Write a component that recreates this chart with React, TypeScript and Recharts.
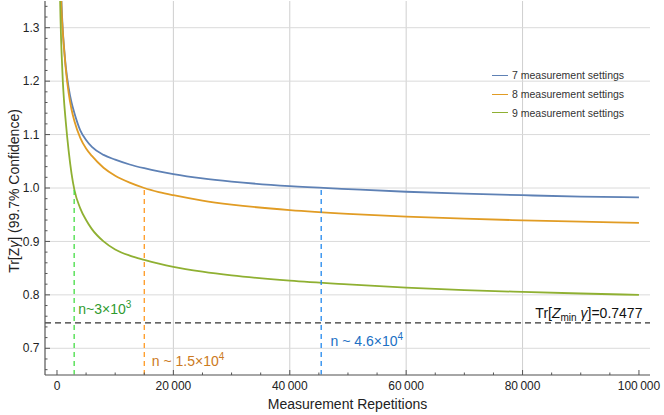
import React from 'react';
import { LineChart, Line, XAxis, YAxis, ReferenceLine, ReferenceDot, Legend } from 'recharts';

// ---------- data ----------
const nValues = [500, 600, 700, 800, 1000, 1200, 1500, 2000, 2500, 3000, 4000, 5000, 6000, 8000, 10000, 12500, 15000, 17500, 20000, 25000, 30000, 40000, 50000, 60000, 70000, 80000, 90000, 100000];
const series7 = [1.47, 1.42, 1.375, 1.34, 1.295, 1.265, 1.228, 1.188, 1.16, 1.14, 1.108, 1.09, 1.077, 1.062, 1.053, 1.044, 1.037, 1.031, 1.026, 1.018, 1.012, 1.0035, 0.998, 0.993, 0.9895, 0.9865, 0.984, 0.9825];
const series8 = [1.47, 1.41, 1.36, 1.33, 1.292, 1.262, 1.224, 1.178, 1.147, 1.125, 1.094, 1.074, 1.06, 1.038, 1.023, 1.01, 1.0, 0.9925, 0.9865, 0.9765, 0.969, 0.9585, 0.9515, 0.9465, 0.9425, 0.9395, 0.937, 0.9346];
const series9 = [1.37, 1.32, 1.28, 1.25, 1.2, 1.165, 1.125, 1.07, 1.027, 0.996, 0.962, 0.94, 0.923, 0.9, 0.885, 0.8735, 0.8655, 0.8585, 0.8525, 0.8435, 0.8365, 0.8265, 0.8195, 0.8135, 0.809, 0.8055, 0.8025, 0.8];
const seriesKeys = ['s7', 's8', 's9'];
const seriesNames = ['7 measurement settings', '8 measurement settings', '9 measurement settings'];

const xMajorTicks = [0, 20000, 40000, 60000, 80000, 100000];
const xTickLabels = ['0', '20\u2009000', '40\u2009000', '60\u2009000', '80\u2009000', '100\u2009000'];
const xMinorTicks = [5000, 10000, 15000, 25000, 30000, 35000, 45000, 50000, 55000, 65000, 70000, 75000, 85000, 90000, 95000];
const xGridValues = [20000, 40000, 60000, 80000];

const yMajorTicks = [0.7, 0.8, 0.9, 1.0, 1.1, 1.2, 1.3];
const yTickLabels = ['0.7', '0.8', '0.9', '1.0', '1.1', '1.2', '1.3'];
const yMinorTicks = [0.66, 0.68, 0.72, 0.74, 0.76, 0.78, 0.82, 0.84, 0.86, 0.88, 0.92, 0.94, 0.96, 0.98, 1.02, 1.04, 1.06, 1.08, 1.12, 1.14, 1.16, 1.18, 1.22, 1.24, 1.26, 1.28, 1.32, 1.34];

const thresholdN = [2950, 15000, 45400];
const thresholdValue = [1.0, 1.0, 1.0];
const minTrace = 0.7477;

// annotation anchors (data space)
const annoN = [3650, 16300, 47000, 100600];
const annoValue = [0.764, 0.667, 0.7045, 0.756];

// ---------- styles ----------
const FONT = '"Liberation Sans", Arial, sans-serif';
const lineColors = ['#5E81B5', '#E19C24', '#8FB032'];
const dashColors = ['#44dd44', '#ff9a22', '#2288ee'];
const textColors = ['#2f9a2f', '#cc7a22', '#2070c4'];
const FRAME = '#555';

const data = nValues.map((n, i) => ({ n, s7: series7[i], s8: series8[i], s9: series9[i] }));
const xTicks = [...xMajorTicks, ...xMinorTicks].sort((a, b) => a - b);
const yTicks = [...yMajorTicks, ...yMinorTicks].sort((a, b) => a - b);

const majorIndex = (list: number[], v: number) => list.findIndex((m) => Math.abs(m - v) < 1e-6);

const BottomTick = (props: any) => {
  const { x, y, payload } = props;
  const idx = majorIndex(xMajorTicks, payload.value);
  const major = idx >= 0;
  return (
    <g>
      <line x1={x} x2={x} y1={y} y2={y - (major ? 5 : 2.5)} stroke={FRAME} strokeWidth={1} />
      {major && (
        <text x={x} y={y + 15} textAnchor="middle" fontSize={12} fontFamily={FONT} fill="#222">
          {xTickLabels[idx]}
        </text>
      )}
    </g>
  );
};

const TopTick = (props: any) => {
  const { x, y, payload } = props;
  const major = majorIndex(xMajorTicks, payload.value) >= 0;
  return <line x1={x} x2={x} y1={y} y2={y + (major ? 5 : 2.5)} stroke={FRAME} strokeWidth={1} />;
};

const LeftTick = (props: any) => {
  const { x, y, payload } = props;
  const idx = majorIndex(yMajorTicks, payload.value);
  const major = idx >= 0;
  return (
    <g>
      <line x1={x} x2={x + (major ? 5 : 2.5)} y1={y} y2={y} stroke={FRAME} strokeWidth={1} />
      {major && (
        <text x={x - 5.5} y={y + 4.2} textAnchor="end" fontSize={12} fontFamily={FONT} fill="#222">
          {yTickLabels[idx]}
        </text>
      )}
    </g>
  );
};

const RightTick = (props: any) => {
  const { x, y, payload } = props;
  const major = majorIndex(yMajorTicks, payload.value) >= 0;
  return <line x1={x} x2={x - (major ? 5 : 2.5)} y1={y} y2={y} stroke={FRAME} strokeWidth={1} />;
};

const XLabel = (props: any) => {
  const vb = props.viewBox || { x: 45, y: 375, width: 605, height: 40 };
  return (
    <text x={vb.x + vb.width / 2} y={vb.y + 34} textAnchor="middle" fontSize={14} fontFamily={FONT} fill="#222">
      Measurement Repetitions
    </text>
  );
};

const YLabel = (props: any) => {
  const vb = props.viewBox || { x: 0, y: 1, width: 45, height: 374 };
  const cx = vb.x + 14;
  const cy = vb.y + vb.height / 2 + 3;
  return (
    <text
      x={cx}
      y={cy}
      transform={`rotate(-90 ${cx} ${cy})`}
      textAnchor="middle"
      dominantBaseline="central"
      fontSize={14}
      fontFamily={FONT}
      fill="#222"
    >
      Tr[Z<tspan fontStyle="italic">γ</tspan>] (99.7% Confidence)
    </text>
  );
};

const annoStyle = { fontSize: 14, fontFamily: FONT };

const annoContents = [
  (cx: number, cy: number) => (
    <text x={cx} y={cy} fill={textColors[0]} {...annoStyle}>
      n~3×10<tspan dy={-6} fontSize={10}>3</tspan>
    </text>
  ),
  (cx: number, cy: number) => (
    <text x={cx} y={cy} fill={textColors[1]} {...annoStyle}>
      n ~ 1.5×10<tspan dy={-6} fontSize={10}>4</tspan>
    </text>
  ),
  (cx: number, cy: number) => (
    <text x={cx} y={cy} fill={textColors[2]} {...annoStyle}>
      n ~ 4.6×10<tspan dy={-6} fontSize={10}>4</tspan>
    </text>
  ),
  (cx: number, cy: number) => (
    <text x={cx} y={cy} fill="#111" textAnchor="end" {...annoStyle}>
      Tr[<tspan fontStyle="italic">Z</tspan>
      <tspan dy={3} fontSize={10}>min</tspan>
      <tspan dy={-3}> </tspan>
      <tspan fontStyle="italic">γ</tspan>]=0.7477
    </text>
  ),
];

const renderLegend = (props: any) => {
  const payload = (props && props.payload) || [];
  return (
    <div style={{ fontFamily: FONT, fontSize: 10.5, color: '#333' }}>
      {payload.map((entry: any, i: number) => (
        <div key={i} style={{ display: 'flex', alignItems: 'center', height: 18.7, whiteSpace: 'nowrap' }}>
          <div style={{ width: 16, height: 0, borderTop: `1.6px solid ${entry.color}`, marginRight: 4 }} />
          <span>{entry.value}</span>
        </div>
      ))}
    </div>
  );
};

export default function App() {
  return (
    <div style={{ position: 'absolute', left: 0, top: 0, width: 664, height: 415, background: '#fff' }}>
      <LineChart width={664} height={415} data={data} margin={{ top: 1, right: 14, bottom: 0, left: 0 }}>
        <XAxis
          xAxisId="b"
          dataKey="n"
          type="number"
          domain={[-2060, 101900]}
          ticks={xTicks}
          interval={0}
          allowDataOverflow
          height={40}
          tickSize={0}
          tickMargin={0}
          tickLine={false}
          tick={<BottomTick />}
          axisLine={{ stroke: '#888', strokeWidth: 1.6 }}
          label={XLabel}
        />
        <XAxis
          xAxisId="t"
          orientation="top"
          dataKey="n"
          type="number"
          domain={[-2060, 101900]}
          ticks={xTicks}
          interval={0}
          allowDataOverflow
          height={0}
          tickSize={0}
          tickMargin={0}
          tickLine={false}
          tick={<TopTick />}
          axisLine={{ stroke: FRAME, strokeWidth: 1.2 }}
        />
        <YAxis
          yAxisId="l"
          type="number"
          domain={[0.65, 1.35]}
          ticks={yTicks}
          interval={0}
          allowDataOverflow
          width={45}
          tickSize={0}
          tickMargin={0}
          tickLine={false}
          tick={<LeftTick />}
          axisLine={{ stroke: FRAME, strokeWidth: 1.2 }}
          label={YLabel}
        />
        <YAxis
          yAxisId="r"
          orientation="right"
          type="number"
          domain={[0.65, 1.35]}
          ticks={yTicks}
          interval={0}
          allowDataOverflow
          width={0}
          tickSize={0}
          tickMargin={0}
          tickLine={false}
          tick={<RightTick />}
          axisLine={{ stroke: FRAME, strokeWidth: 1.2 }}
        />

        {xGridValues.map((v) => (
          <ReferenceLine key={'gx' + v} xAxisId="b" yAxisId="l" x={v} stroke="#cfcfcf" strokeWidth={1} />
        ))}
        {yMajorTicks.map((v) => (
          <ReferenceLine key={'gy' + v} xAxisId="b" yAxisId="l" y={v} stroke="#dadada" strokeWidth={1} />
        ))}

        {seriesKeys.map((k, i) => (
          <Line
            key={k}
            xAxisId="b"
            yAxisId="l"
            dataKey={k}
            name={seriesNames[i]}
            type="monotone"
            stroke={lineColors[i]}
            strokeWidth={1.8}
            dot={false}
            activeDot={false}
            isAnimationActive={false}
          />
        ))}

        {thresholdN.map((n, i) => (
          <ReferenceLine
            key={'th' + i}
            xAxisId="b"
            yAxisId="l"
            segment={[
              { x: n, y: 0.65 },
              { x: n, y: thresholdValue[i] },
            ]}
            stroke={dashColors[i]}
            strokeWidth={1.3}
            strokeDasharray="5 4"
          />
        ))}
        <ReferenceLine xAxisId="b" yAxisId="l" y={minTrace} stroke="#333" strokeWidth={1.3} strokeDasharray="6 4" />

        {annoN.map((n, i) => (
          <ReferenceDot
            key={'an' + i}
            xAxisId="b"
            yAxisId="l"
            x={n}
            y={annoValue[i]}
            r={0}
            shape={(p: any) => annoContents[i](p.cx, p.cy)}
          />
        ))}

        <Legend
          layout="vertical"
          align="center"
          verticalAlign="middle"
          content={renderLegend}
          wrapperStyle={{ left: 492, top: 66, width: 'auto', bottom: 'auto', right: 'auto' }}
        />
      </LineChart>
    </div>
  );
}
